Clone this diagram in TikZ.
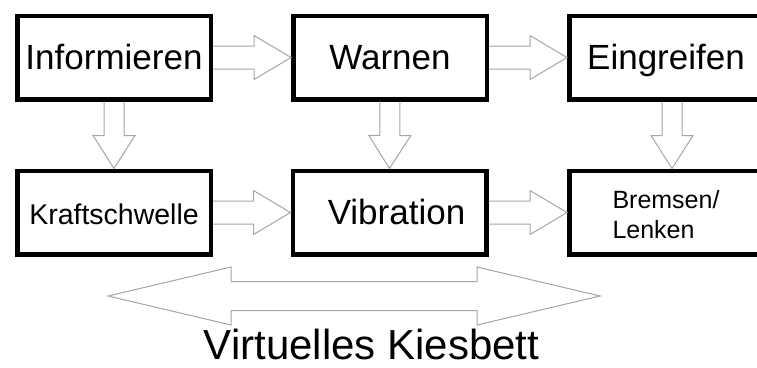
\documentclass[tikz,border=0pt]{standalone}
\usepackage{fontspec}
\setmainfont{Liberation Sans}
\usepackage{xcolor}
\usetikzlibrary{calc, positioning}

\definecolor{arrowgray}{gray}{0.65}

% hollow block arrow between two points
\newcommand{\blockarrow}[2]{%
  \coordinate (ba-base) at ($(#2)!\arrlen!(#1)$);
  \draw[hollow] ($(#1)!\arrshaft!90:(#2)$)
    -- ($(ba-base)!\arrshaft!90:(#2)$) -- ($(ba-base)!\arrhead!90:(#2)$)
    -- (#2)
    -- ($(ba-base)!\arrhead!-90:(#2)$) -- ($(ba-base)!\arrshaft!-90:(#2)$)
    -- ($(#1)!\arrshaft!-90:(#2)$);
}

\begin{document}
\begin{tikzpicture}[x=1pt, y=-1pt,
    box/.style={draw, line width=4.5pt, minimum width=193.5pt, minimum height=83.5pt,
                inner sep=0pt, text height=23pt, text depth=0pt, font=\fontsize{35}{42}\selectfont},
    hollow/.style={draw=arrowgray, line width=1pt, line join=miter}]
			\useasboundingbox (0,0) rectangle (757,367);
			\fill[white] (0,0) rectangle (757,367);
			\clip (0,0) rectangle (757,367);
			\node[box] (inf) at (114,57.5) {Informieren};
			\node[box] (war) at (390,57.5) {Warnen};
			\node[box] (ein) at (666,57.5) {Eingreifen};
			\node[box, font=\fontsize{28.5}{34}\selectfont] (kraft) at (114,212.5) {Kraftschwelle};
			\node[box] (vib) at (389.5,212.5) {\hspace*{14pt}Vibration};
			\node[box, align=left, text height=51pt, text depth=0pt, font=\fontsize{25}{30}\selectfont] (brems) at (666,212.5) {Bremsen/\\Lenken};
			\coordinate (ein-s) at ([xshift=6pt]ein.south);
			\coordinate (brems-n) at ([xshift=6pt]brems.north);
			\def\arrshaft{11.5pt}\def\arrhead{22pt}\def\arrlen{37pt}
			\blockarrow{inf.east}{war.west}
			\blockarrow{war.east}{ein.west}
			\blockarrow{kraft.east}{vib.west}
			\blockarrow{vib.east}{brems.west}
			\def\arrshaft{10pt}\def\arrhead{21pt}\def\arrlen{33pt}
			\blockarrow{inf.south}{kraft.north}
			\blockarrow{war.south}{vib.north}
			\blockarrow{ein-s}{brems-n}
			% double arrow above the label
			\coordinate (bett-l) at (108,296);
			\coordinate (bett-r) at (600,296);
			\coordinate (bl) at ($(bett-l)!123pt!(bett-r)$);
			\coordinate (br) at ($(bett-r)!123pt!(bett-l)$);
			\draw[hollow] (bett-l) -- ($(bl)!29pt!90:(bett-r)$) -- ($(bl)!14.5pt!90:(bett-r)$)
				-- ($(br)!14.5pt!-90:(bett-l)$) -- ($(br)!29pt!-90:(bett-l)$) -- (bett-r)
				-- ($(br)!29pt!90:(bett-l)$) -- ($(br)!14.5pt!90:(bett-l)$)
				-- ($(bl)!14.5pt!-90:(bett-r)$) -- ($(bl)!29pt!-90:(bett-r)$) -- cycle;
			\node[anchor=base, inner sep=0pt, font=\fontsize{42}{50}\selectfont] (bett) at (371.5,359) {Virtuelles Kiesbett};
		\end{tikzpicture}
\end{document}
